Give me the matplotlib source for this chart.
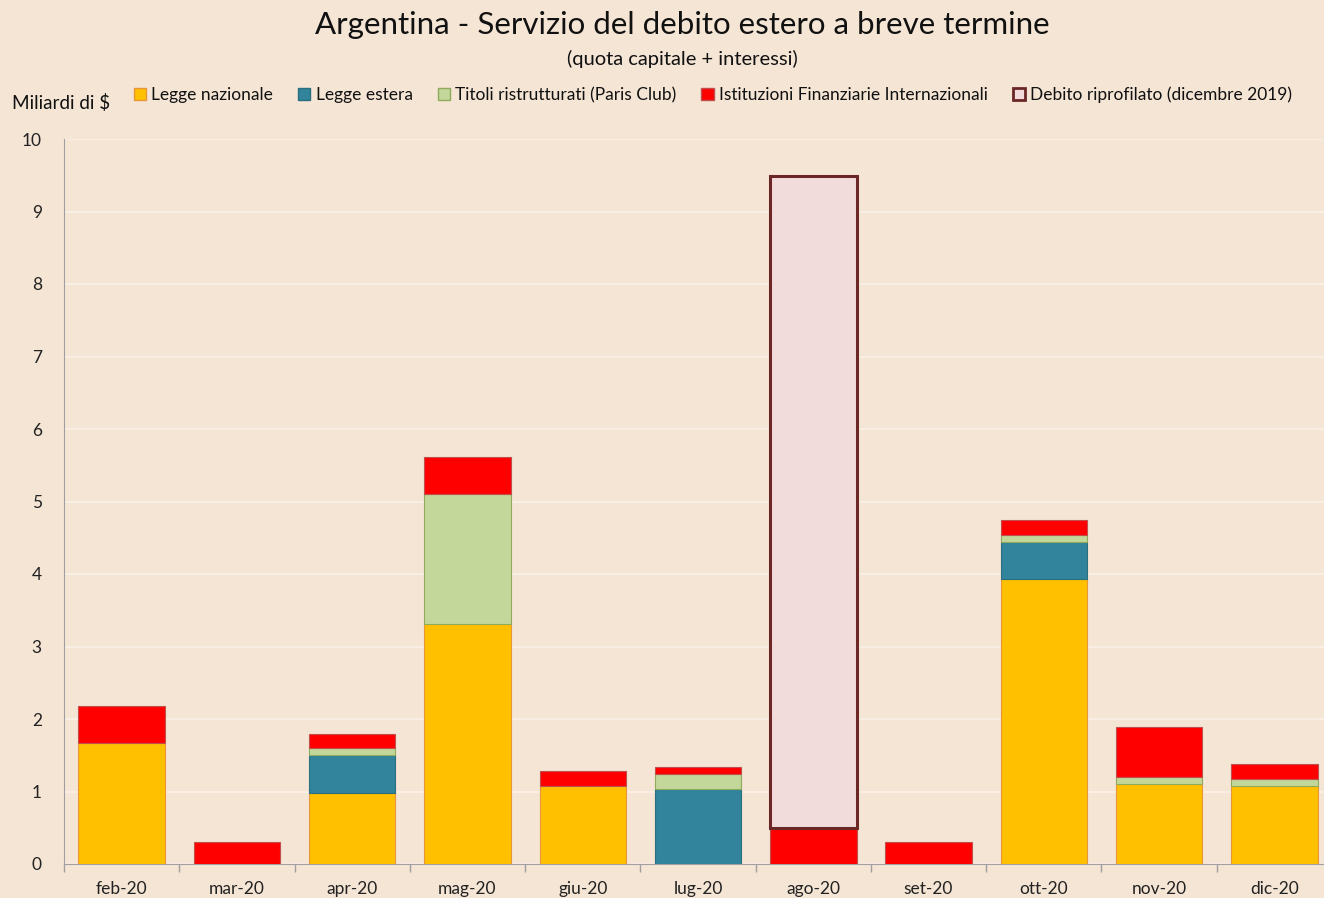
import matplotlib.pyplot as plt
import matplotlib.patches as mpatches
import numpy as np

plt.rcParams['font.family'] = ['Lato', 'DejaVu Sans']

months = ['feb-20', 'mar-20', 'apr-20', 'mag-20', 'giu-20', 'lug-20',
          'ago-20', 'set-20', 'ott-20', 'nov-20', 'dic-20']
legge_nazionale = [1.67, 0, 0.98, 3.31, 1.08, 0, 0, 0, 3.93, 1.10, 1.08]
legge_estera    = [0, 0, 0.52, 0, 0, 1.03, 0, 0, 0.51, 0, 0]
paris_club      = [0, 0, 0.10, 1.79, 0, 0.21, 0, 0, 0.10, 0.10, 0.09]
ifi             = [0.51, 0.30, 0.19, 0.51, 0.20, 0.10, 0.50, 0.30, 0.20, 0.69, 0.21]
riprofilato     = [0, 0, 0, 0, 0, 0, 8.99, 0, 0, 0, 0]

labels = ['Legge nazionale', 'Legge estera', 'Titoli ristrutturati (Paris Club)',
          'Istituzioni Finanziarie Internazionali', 'Debito riprofilato (dicembre 2019)']
faces = ['#FFC000', '#31849B', '#C4D79B', '#FF0000', '#F2DCDB']
edges = ['#E8963A', '#2A6F80', '#8FAA5A', '#C0504D', '#6B2626']
lws = [0.8, 0.8, 0.8, 0.8, 2.2]

bg = '#F5E5D5'
fig = plt.figure(figsize=(13.24, 8.98), dpi=100, facecolor=bg)
W, H = 1324, 898
ax = fig.add_axes([64 / W, 1 - 864 / H, 1268 / W, (864 - 139) / H])
ax.set_facecolor(bg)

x = np.arange(len(months))
bottom = np.zeros(len(months))
series = [legge_nazionale, legge_estera, paris_club, ifi, riprofilato]
for vals, fc, ec, lw in zip(series, faces, edges, lws):
    v = np.array(vals, dtype=float)
    mask = v > 0
    ax.bar(x[mask], v[mask], 0.75, bottom=bottom[mask], color=fc,
           edgecolor=ec, linewidth=lw, zorder=3)
    bottom += v

ax.set_xlim(-0.5, len(months) - 0.5)
ax.set_ylim(0, 10)
ax.set_yticks(range(0, 11))
ax.yaxis.grid(True, color='#FAF0E8', linewidth=1.2, zorder=0)
ax.tick_params(axis='y', length=0, labelsize=12.5, pad=16, colors='#222222')
ax.set_xticks(x)
ax.set_xticklabels(months)
ax.tick_params(axis='x', which='major', length=0, labelsize=12.5, pad=12, colors='#222222')
ax.set_xticks(np.arange(-0.5, len(months), 1), minor=True)
ax.tick_params(axis='x', which='minor', length=6, color='#A0A0A0', width=1)
for s in ['top', 'right']:
    ax.spines[s].set_visible(False)
ax.spines['left'].set_color('#A0A0A0')
ax.spines['bottom'].set_color('#A0A0A0')

fig.text(682 / W, 1 - 25 / H, 'Argentina - Servizio del debito estero a breve termine',
         ha='center', va='center', fontsize=22.5, color='#111111')
fig.text(682 / W, 1 - 59 / H, '(quota capitale + interessi)',
         ha='center', va='center', fontsize=14.5, color='#111111')
fig.text(12 / W, 1 - 103 / H, 'Miliardi di $', ha='left', va='center',
         fontsize=13.6, color='#111111')

handles = [mpatches.Patch(facecolor=fc, edgecolor=ec, linewidth=(2 if i == 4 else 1))
           for i, (fc, ec) in enumerate(zip(faces, edges))]
fig.legend(handles, labels, ncol=5, loc='center', bbox_to_anchor=(713 / W, 1 - 95 / H),
           frameon=False, fontsize=12.5, handlelength=0.7, handleheight=0.7,
           handletextpad=0.3, columnspacing=1.45, labelcolor='#111111')

fig.savefig('out.png', dpi=100, facecolor=bg)
